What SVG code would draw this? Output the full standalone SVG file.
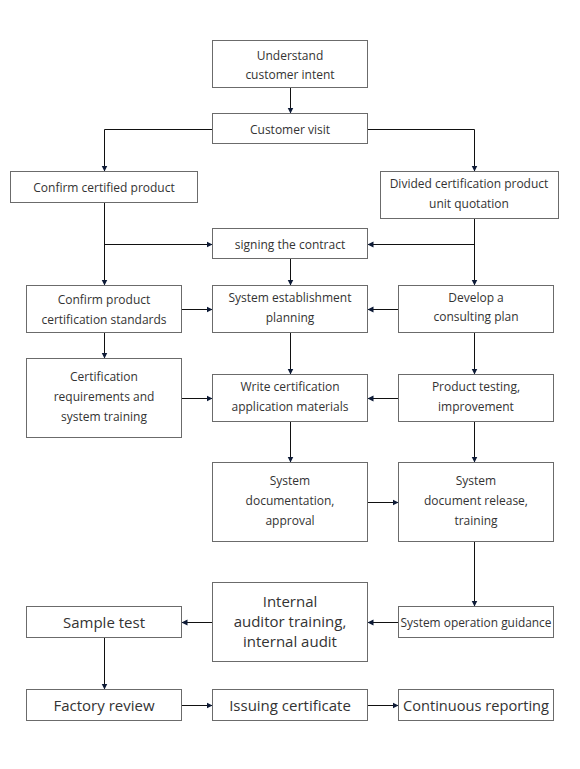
<svg xmlns="http://www.w3.org/2000/svg" width="580" height="769" viewBox="0 0 580 769">
<style>
.box{fill:#fff;stroke:#6b6b6b;stroke-width:1}
.t{font-family:"Open Sans","Noto Sans","DejaVu Sans",sans-serif;font-size:12px;fill:#333;text-anchor:middle}
.L{font-size:15px}
.c{fill:none;stroke:#111;stroke-width:1;marker-end:url(#ah)}
.p{fill:none;stroke:#111;stroke-width:1}
</style>
<defs>
<marker id="ah" markerUnits="userSpaceOnUse" markerWidth="7" markerHeight="7" refX="6" refY="3.5" orient="auto">
<path d="M0,0.5 L6,3.5 L0,6.5 z" fill="#0d1a36"/>
</marker>
</defs>
<rect width="580" height="769" fill="#fff"/>
<g id="connectors">
<path class="c" d="M290.5,87.5 V113.5"/>
<path class="c" d="M212.5,129.5 H104.5 V171.5"/>
<path class="c" d="M367.5,129.5 H474.5 V171.5"/>
<path class="c" d="M104.5,202.5 V285.5"/>
<path class="c" d="M104.5,244.5 H212.5"/>
<path class="c" d="M474.5,218.5 V285.5"/>
<path class="c" d="M474.5,244.5 H367.5"/>
<path class="c" d="M290.5,258.5 V285.5"/>
<path class="c" d="M181.5,309.5 H212.5"/>
<path class="c" d="M398.5,309.5 H367.5"/>
<path class="c" d="M104.5,332.5 V358.5"/>
<path class="c" d="M181.5,398.5 H212.5"/>
<path class="c" d="M398.5,398.5 H367.5"/>
<path class="c" d="M290.5,332.5 V374.5"/>
<path class="c" d="M474.5,332.5 V374.5"/>
<path class="c" d="M290.5,421.5 V462.5"/>
<path class="c" d="M474.5,421.5 V462.5"/>
<path class="c" d="M367.5,502.5 H398.5"/>
<path class="c" d="M474.5,541.5 V606.5"/>
<path class="c" d="M398.5,622.5 H367.5"/>
<path class="c" d="M212.5,622.5 H181.5"/>
<path class="c" d="M104.5,637.5 V689.5"/>
<path class="c" d="M181.5,705.5 H212.5"/>
<path class="c" d="M367.5,705.5 H398.5"/>
</g>
<g id="n1"><rect class="box" x="212.5" y="40.5" width="155" height="47"/><text class="t" x="290" y="59.5">Understand</text><text class="t" x="290" y="79">customer intent</text></g>
<g id="n2"><rect class="box" x="212.5" y="113.5" width="155" height="30"/><text class="t" x="290" y="133.5">Customer visit</text></g>
<g id="n3"><rect class="box" x="10.5" y="171.5" width="187" height="31"/><text class="t" x="104" y="191.5">Confirm certified product</text></g>
<g id="n4"><rect class="box" x="380.5" y="171.5" width="178" height="47"/><text class="t" x="469" y="187.5">Divided certification product</text><text class="t" x="469" y="207.5">unit quotation</text></g>
<g id="n5"><rect class="box" x="212.5" y="228.5" width="155" height="30"/><text class="t" x="290" y="248.5">signing the contract</text></g>
<g id="n6"><rect class="box" x="26.5" y="285.5" width="155" height="47"/><text class="t" x="104" y="303.5">Confirm product</text><text class="t" x="104" y="323.5">certification standards</text></g>
<g id="n7"><rect class="box" x="212.5" y="285.5" width="155" height="47"/><text class="t" x="290" y="302">System establishment</text><text class="t" x="290" y="322">planning</text></g>
<g id="n8"><rect class="box" x="398.5" y="285.5" width="155" height="47"/><text class="t" x="476" y="301.5">Develop a</text><text class="t" x="476" y="321">consulting plan</text></g>
<g id="n9"><rect class="box" x="26.5" y="358.5" width="155" height="79"/><text class="t" x="104" y="381">Certification</text><text class="t" x="104" y="401">requirements and</text><text class="t" x="104" y="421">system training</text></g>
<g id="n10"><rect class="box" x="212.5" y="374.5" width="155" height="47"/><text class="t" x="290" y="391">Write certification</text><text class="t" x="290" y="411">application materials</text></g>
<g id="n11"><rect class="box" x="398.5" y="374.5" width="155" height="47"/><text class="t" x="476" y="391">Product testing,</text><text class="t" x="476" y="411">improvement</text></g>
<g id="n12"><rect class="box" x="212.5" y="462.5" width="155" height="79"/><text class="t" x="290" y="485">System</text><text class="t" x="290" y="505">documentation,</text><text class="t" x="290" y="525">approval</text></g>
<g id="n13"><rect class="box" x="398.5" y="462.5" width="155" height="79"/><text class="t" x="476" y="485">System</text><text class="t" x="476" y="505">document release,</text><text class="t" x="476" y="525">training</text></g>
<g id="n14"><rect class="box" x="212.5" y="582.5" width="155" height="79"/><text class="t L" x="290" y="607">Internal</text><text class="t L" x="290" y="627">auditor training,</text><text class="t L" x="290" y="647">internal audit</text></g>
<g id="n15"><rect class="box" x="26.5" y="606.5" width="155" height="31"/><text class="t L" x="104" y="627.5">Sample test</text></g>
<g id="n16"><rect class="box" x="398.5" y="606.5" width="155" height="31"/><text class="t" x="476" y="626.5" textLength="151" lengthAdjust="spacingAndGlyphs">System operation guidance</text></g>
<g id="n17"><rect class="box" x="26.5" y="689.5" width="155" height="31"/><text class="t L" x="104" y="710.5">Factory review</text></g>
<g id="n18"><rect class="box" x="212.5" y="689.5" width="155" height="31"/><text class="t L" x="290" y="710.5">Issuing certificate</text></g>
<g id="n19"><rect class="box" x="398.5" y="689.5" width="155" height="31"/><text class="t L" x="476" y="710.5" textLength="146" lengthAdjust="spacingAndGlyphs">Continuous reporting</text></g>
</svg>
